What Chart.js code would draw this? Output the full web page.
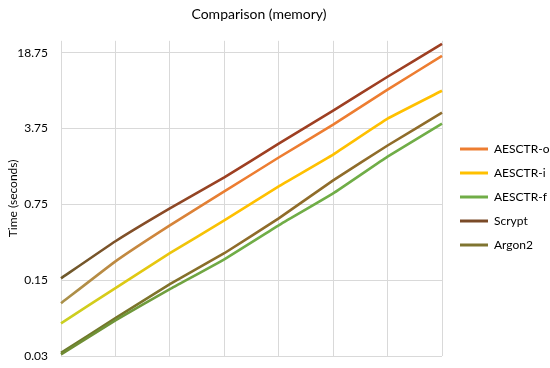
<!DOCTYPE html>
<html>
<head>
<meta charset="utf-8">
<script src="https://cdn.jsdelivr.net/npm/chart.js@4"></script>
<style>
    html, body { margin: 0; padding: 0; background: #FFFFFF; }
    #wrap { width: 550px; height: 368px; }
</style>
</head>
<body>
<div id="wrap"><canvas id="memChart"></canvas></div>
<script>
// Values (seconds), one point per memory step
const steps = ['1', '2', '3', '4', '5', '6', '7', '8'];
const aesctrO = [0.092, 0.224, 0.481, 0.987, 2.03, 4.08, 8.57, 17.6];
const aesctrI = [0.060, 0.127, 0.266, 0.534, 1.10, 2.16, 4.63, 8.38];
const aesctrF = [0.031, 0.064, 0.124, 0.234, 0.481, 0.947, 2.07, 4.17];
const scrypt = [0.156, 0.343, 0.689, 1.33, 2.73, 5.49, 11.28, 22.7];
const argon2 = [0.032, 0.067, 0.138, 0.266, 0.558, 1.25, 2.62, 5.26];
const yTicks = [0.03, 0.15, 0.75, 3.75, 18.75];

const fontFamily = 'Lato, "Open Sans", sans-serif';

// Lines fade from a muted tone on the left to their own colour on the right
function fade(fromColor, toColor) {
    return function (context) {
        const chart = context.chart;
        const area = chart.chartArea;
        if (!area) return toColor;
        const g = chart.ctx.createLinearGradient(area.left, 0, area.right, 0);
        g.addColorStop(0, fromColor);
        g.addColorStop(0.45, toColor);
        g.addColorStop(1, toColor);
        return g;
    };
}

const series = [
    { label: 'AESCTR-o', data: aesctrO, from: '#a8904a', to: '#ED7D31', legend: '#ED7D31' },
    { label: 'AESCTR-i', data: aesctrI, from: '#c9cf22', to: '#FFC000', legend: '#FFC000' },
    { label: 'AESCTR-f', data: aesctrF, from: '#6f8a32', to: '#70AD47', legend: '#70AD47' },
    { label: 'Scrypt', data: scrypt, from: '#6e5a2c', to: '#9E3F22', legend: '#7a4a28' },
    { label: 'Argon2', data: argon2, from: '#6b7a2a', to: '#8f6c2a', legend: '#7f7430' }
];

// Fixed legend column width, then nudge legend and title into place
const legendPlacer = {
    id: 'legendPlacer',
    beforeInit(chart) {
        const fit = chart.legend.fit;
        chart.legend.fit = function () {
            fit.call(this);
            this.width = 108;
        };
    },
    afterLayout(chart) {
        const lg = chart.legend;
        lg.left += 6;
        lg.right += 6;
        lg.top += 17;
        lg.bottom += 17;
        const tb = chart.titleBlock;
        if (tb) {
            tb.left -= 16;
            tb.right -= 16;
        }
    }
};

new Chart(document.getElementById('memChart'), {
    type: 'line',
    data: {
        labels: steps,
        datasets: series.map(s => ({
            label: s.label,
            data: s.data,
            borderColor: fade(s.from, s.to),
            backgroundColor: s.legend,
            borderWidth: 2.6,
            pointRadius: 0,
            tension: 0.1,
            fill: false
        }))
    },
    plugins: [legendPlacer],
    options: {
        responsive: true,
        maintainAspectRatio: false,
        animation: false,
        layout: {
            padding: { top: 4, right: 0, bottom: 12, left: 0 }
        },
        plugins: {
            title: {
                display: true,
                text: 'Comparison (memory)',
                color: '#000000',
                font: { family: fontFamily, size: 14, weight: 'normal' },
                padding: { top: 2, bottom: 18 }
            },
            legend: {
                position: 'right',
                labels: {
                    color: '#000000',
                    font: { family: fontFamily, size: 12 },
                    boxWidth: 28,
                    boxHeight: 3,
                    padding: 12,
                    generateLabels: chart => chart.data.datasets.map((ds, i) => ({
                        text: ds.label,
                        fillStyle: series[i].legend,
                        strokeStyle: series[i].legend,
                        lineWidth: 0,
                        datasetIndex: i,
                        hidden: false
                    }))
                }
            },
            tooltip: { enabled: false }
        },
        scales: {
            x: {
                offset: false,
                afterFit: axis => {
                    axis.height = 0;
                },
                grid: { color: '#d9d9d9', lineWidth: 1, drawTicks: false },
                border: { display: false },
                ticks: { display: false }
            },
            y: {
                type: 'logarithmic',
                min: 0.03,
                max: 24.2,
                afterBuildTicks: axis => {
                    axis.ticks = yTicks.map(v => ({ value: v }));
                },
                afterFit: axis => {
                    axis.width = 61;
                    axis.paddingTop = 0;
                    axis.paddingBottom = 0;
                },
                grid: { color: '#d9d9d9', lineWidth: 1, drawTicks: false },
                border: { display: false },
                title: {
                    display: true,
                    text: 'Time (seconds)',
                    color: '#000000',
                    font: { family: fontFamily, size: 12 },
                    padding: { top: 6, bottom: 0 }
                },
                ticks: {
                    color: '#000000',
                    font: { family: fontFamily, size: 12 },
                    padding: 13,
                    callback: value => String(value)
                }
            }
        }
    }
});
</script>
</body>
</html>
